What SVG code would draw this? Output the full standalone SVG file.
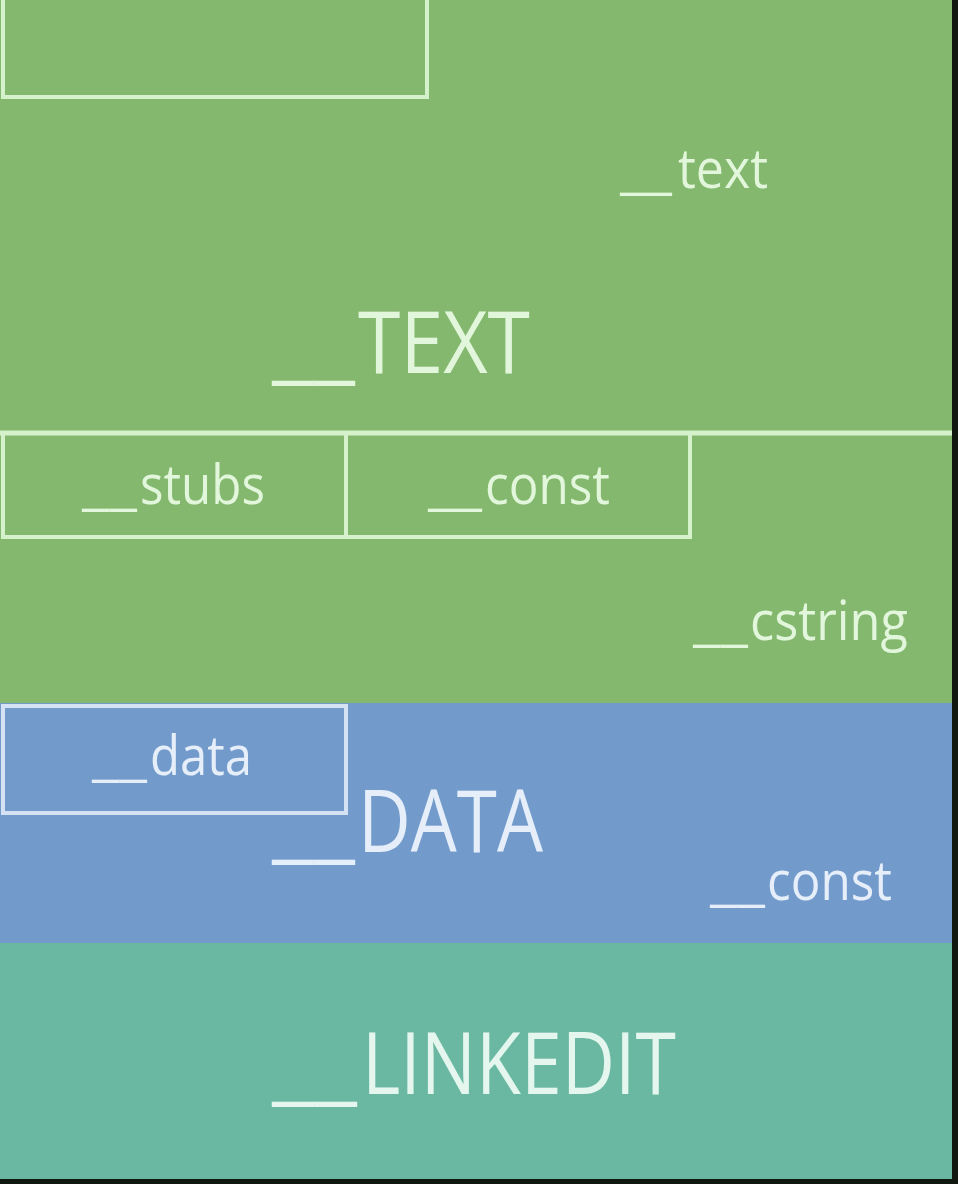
<svg xmlns="http://www.w3.org/2000/svg" width="958" height="1184" viewBox="0 0 958 1184">
<style>
.lbl{font-family:"Open Sans","Liberation Sans",sans-serif;fill:#e2f6dc}
.lblb{font-family:"Open Sans","Liberation Sans",sans-serif;fill:#e6eefa}
.lblt{font-family:"Open Sans","Liberation Sans",sans-serif;fill:#e4f6ee}
.sm{font-size:54px}
.big{font-size:86px}
.box{fill:none;stroke:#d6f2cc;stroke-width:4}
.boxb{fill:none;stroke:#d4e2f4;stroke-width:4}
</style>
<rect x="0" y="0" width="958" height="1184" fill="#101810"/>
<g id="text-segment">
<rect x="0" y="0" width="952" height="703" fill="#84b86e"/>
<text class="lbl big" y="373"><tspan x="272" textLength="83" lengthAdjust="spacingAndGlyphs">__</tspan><tspan x="358" textLength="172" lengthAdjust="spacingAndGlyphs">TEXT</tspan></text>
</g>
<g id="sect-top">
<rect class="box" x="3" y="-10" width="424" height="107"/>
</g>
<g id="sect-text">
<text class="lbl sm" y="188"><tspan x="620" textLength="52" lengthAdjust="spacingAndGlyphs">__</tspan><tspan x="678" textLength="90" lengthAdjust="spacingAndGlyphs">text</tspan></text>
</g>
<g id="sect-divider">
<line x1="0" y1="433" x2="952" y2="433" stroke="#d6f2cc" stroke-width="5"/>
</g>
<g id="sect-stubs">
<rect class="box" x="3" y="433" width="343" height="104"/>
<text class="lbl sm" y="504"><tspan x="82" textLength="55" lengthAdjust="spacingAndGlyphs">__</tspan><tspan x="140" textLength="125" lengthAdjust="spacingAndGlyphs">stubs</tspan></text>
</g>
<g id="sect-const-text">
<rect class="box" x="346" y="433" width="344" height="104"/>
<text class="lbl sm" y="504"><tspan x="428" textLength="54" lengthAdjust="spacingAndGlyphs">__</tspan><tspan x="485" textLength="125" lengthAdjust="spacingAndGlyphs">const</tspan></text>
</g>
<g id="sect-cstring">
<text class="lbl sm" y="640"><tspan x="693" textLength="55" lengthAdjust="spacingAndGlyphs">__</tspan><tspan x="750" textLength="158" lengthAdjust="spacingAndGlyphs">cstring</tspan></text>
</g>
<g id="data-segment">
<rect x="0" y="703" width="952" height="240" fill="#729bcc"/>
<text class="lblb big" y="852"><tspan x="272" textLength="83" lengthAdjust="spacingAndGlyphs">__</tspan><tspan x="358" textLength="185" lengthAdjust="spacingAndGlyphs">DATA</tspan></text>
</g>
<g id="sect-data">
<rect class="boxb" x="3" y="706" width="343" height="107"/>
<text class="lblb sm" y="775"><tspan x="92" textLength="55" lengthAdjust="spacingAndGlyphs">__</tspan><tspan x="150" textLength="102" lengthAdjust="spacingAndGlyphs">data</tspan></text>
</g>
<g id="sect-const-data">
<text class="lblb sm" y="900"><tspan x="710" textLength="55" lengthAdjust="spacingAndGlyphs">__</tspan><tspan x="767" textLength="125" lengthAdjust="spacingAndGlyphs">const</tspan></text>
</g>
<g id="linkedit-segment">
<rect x="0" y="943" width="952" height="236" fill="#6ab8a2"/>
<text class="lblt big" y="1094"><tspan x="272" textLength="85" lengthAdjust="spacingAndGlyphs">__</tspan><tspan x="362" textLength="314" lengthAdjust="spacingAndGlyphs">LINKEDIT</tspan></text>
</g>
<g id="connectors"></g>
</svg>
